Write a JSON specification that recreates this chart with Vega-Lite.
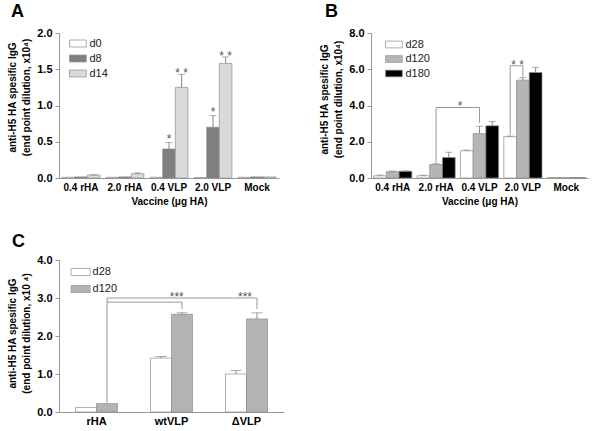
{
  "$schema": "https://vega.github.io/schema/vega-lite/v6.json",
  "padding": {"left": 7, "top": 3, "right": 5, "bottom": 5},
  "background": "white",
  "config": {
    "font": "Liberation Sans",
    "view": {"stroke": null},
    "axis": {"grid": false, "domainColor": "#999", "tickColor": "#999", "labelFont": "Liberation Sans", "labelFontWeight": "bold", "labelFontSize": 10, "labelColor": "#000", "titleFont": "Liberation Sans", "titleFontWeight": "bold", "titleFontSize": 10, "titleColor": "#000", "labelOverlap": false},
    "axisX": {"ticks": false, "labelAngle": 0, "labelPadding": 4, "titlePadding": 4},
    "axisY": {"tickSize": 4, "labelPadding": 3, "titlePadding": 5, "titleLineHeight": 14, "labelFontSize": 11},
    "title": {"font": "Liberation Sans", "fontSize": 18, "fontWeight": "bold", "anchor": "start", "frame": "group", "color": "#000"},
    "legend": {"labelFont": "Liberation Sans", "labelFontSize": 11, "labelColor": "#222", "symbolStrokeColor": "#999", "symbolStrokeWidth": 0.8, "symbolOpacity": 1, "padding": 0, "rowPadding": 2, "labelOffset": 4}
  },
  "resolve": {"scale": {"fill": "independent", "xOffset": "independent", "x": "independent", "y": "independent"}, "legend": {"fill": "independent"}},
  "datasets": {
    "a": [
      {"group": "0.4 rHA", "series": "d0", "value": 0.01},
      {"group": "0.4 rHA", "series": "d8", "value": 0.015},
      {"group": "0.4 rHA", "series": "d14", "value": 0.04, "err": 0.045},
      {"group": "2.0 rHA", "series": "d0", "value": 0.01},
      {"group": "2.0 rHA", "series": "d8", "value": 0.015},
      {"group": "2.0 rHA", "series": "d14", "value": 0.06, "err": 0.07},
      {"group": "0.4 VLP", "series": "d0", "value": 0.01},
      {"group": "0.4 VLP", "series": "d8", "value": 0.40, "err": 0.49},
      {"group": "0.4 VLP", "series": "d14", "value": 1.25, "err": 1.43},
      {"group": "2.0 VLP", "series": "d0", "value": 0.005},
      {"group": "2.0 VLP", "series": "d8", "value": 0.70, "err": 0.86},
      {"group": "2.0 VLP", "series": "d14", "value": 1.58, "err": 1.67},
      {"group": "Mock", "series": "d0", "value": 0.01},
      {"group": "Mock", "series": "d8", "value": 0.015},
      {"group": "Mock", "series": "d14", "value": 0.015}
    ],
    "astars": [
      {"group": "0.4 VLP", "series": "d8", "y": 0.54, "label": "*"},
      {"group": "0.4 VLP", "series": "d14", "y": 1.45, "label": "* *"},
      {"group": "2.0 VLP", "series": "d8", "y": 0.91, "label": "*"},
      {"group": "2.0 VLP", "series": "d14", "y": 1.68, "label": "* *"}
    ],
    "b": [
      {"group": "0.4 rHA", "series": "d28", "value": 0.12, "err": 0.16},
      {"group": "0.4 rHA", "series": "d120", "value": 0.35, "err": 0.38},
      {"group": "0.4 rHA", "series": "d180", "value": 0.37, "err": 0.39},
      {"group": "2.0 rHA", "series": "d28", "value": 0.12, "err": 0.15},
      {"group": "2.0 rHA", "series": "d120", "value": 0.75, "err": 0.78},
      {"group": "2.0 rHA", "series": "d180", "value": 1.13, "err": 1.42},
      {"group": "0.4 VLP", "series": "d28", "value": 1.5, "err": 1.54},
      {"group": "0.4 VLP", "series": "d120", "value": 2.45, "err": 2.85},
      {"group": "0.4 VLP", "series": "d180", "value": 2.88, "err": 3.12},
      {"group": "2.0 VLP", "series": "d28", "value": 2.28, "err": 2.31},
      {"group": "2.0 VLP", "series": "d120", "value": 5.4, "err": 5.55},
      {"group": "2.0 VLP", "series": "d180", "value": 5.82, "err": 6.1},
      {"group": "Mock", "series": "d28", "value": 0.02},
      {"group": "Mock", "series": "d120", "value": 0.02},
      {"group": "Mock", "series": "d180", "value": 0.025}
    ],
    "bbr": [
      {"x": 1.5, "x2": 2.5, "y": 3.89, "y2": 3.89},
      {"x": 1.5, "x2": 1.5, "y": 3.89, "y2": 0.8},
      {"x": 2.5, "x2": 2.5, "y": 3.89, "y2": 3.05},
      {"x": 3.2067, "x2": 3.5, "y": 6.19, "y2": 6.19},
      {"x": 3.2067, "x2": 3.2067, "y": 6.19, "y2": 2.35},
      {"x": 3.5, "x2": 3.5, "y": 6.19, "y2": 5.6}
    ],
    "bstars": [
      {"x": 2.05, "y": 3.95, "label": "*"},
      {"x": 3.38, "y": 6.25, "label": "* *"}
    ],
    "c": [
      {"group": "rHA", "series": "d28", "value": 0.12},
      {"group": "rHA", "series": "d120", "value": 0.22},
      {"group": "wtVLP", "series": "d28", "value": 1.42, "err": 1.46},
      {"group": "wtVLP", "series": "d120", "value": 2.57, "err": 2.61},
      {"group": "ΔVLP", "series": "d28", "value": 1.0, "err": 1.09},
      {"group": "ΔVLP", "series": "d120", "value": 2.45, "err": 2.61}
    ],
    "cbr": [
      {"x": 0.64, "x2": 2.64, "y": 3.0, "y2": 3.0},
      {"x": 0.64, "x2": 1.64, "y": 2.89, "y2": 2.89},
      {"x": 0.64, "x2": 0.64, "y": 3.0, "y2": 0.22},
      {"x": 1.64, "x2": 1.64, "y": 2.89, "y2": 2.71},
      {"x": 2.64, "x2": 2.64, "y": 3.0, "y2": 2.71}
    ],
    "cstars": [
      {"x": 1.57, "y": 3.02, "label": "***"},
      {"x": 2.48, "y": 3.02, "label": "***"}
    ]
  },
  "vconcat": [
    {
      "resolve": {"scale": {"fill": "independent", "xOffset": "independent", "x": "independent", "y": "independent"}, "legend": {"fill": "independent"}},
      "hconcat": [
        {
          "width": 220,
          "height": 145,
          "title": {"text": "A", "dx": -48, "offset": 6},
          "layer": [
            {
              "data": {"name": "a"},
              "mark": {"type": "bar", "stroke": "#8c8c8c", "strokeWidth": 0.7},
              "encoding": {
                "x": {"field": "group", "type": "nominal", "sort": ["0.4 rHA", "2.0 rHA", "0.4 VLP", "2.0 VLP", "Mock"], "scale": {"type": "band", "paddingInner": 0.14, "paddingOuter": 0.07}, "axis": {"title": "Vaccine (μg HA)"}},
                "xOffset": {"field": "series", "type": "nominal", "sort": ["d0", "d8", "d14"], "scale": {"type": "band", "paddingInner": 0, "paddingOuter": 0}},
                "y": {"field": "value", "type": "quantitative", "scale": {"domain": [0, 2], "nice": false}, "axis": {"values": [0, 0.5, 1, 1.5, 2], "format": ".1f", "title": ["anti-H5 HA spesific IgG", "(end point dilution, x10⁴)"], "titleY": 64}},
                "fill": {"field": "series", "type": "nominal", "sort": ["d0", "d8", "d14"], "scale": {"domain": ["d0", "d8", "d14"], "range": ["#ffffff", "#7f7f7f", "#dadada"]}, "legend": {"title": null, "orient": "none", "legendX": 11.4, "legendY": 3, "symbolType": "M-1.2,-0.5H1.2V0.5H-1.2Z", "symbolSize": 196}}
              }
            },
            {
              "data": {"name": "a"},
              "transform": [{"filter": "isValid(datum.err)"}],
              "mark": {"type": "rule", "color": "#888", "strokeWidth": 1},
              "encoding": {
                "x": {"field": "group", "type": "nominal", "sort": ["0.4 rHA", "2.0 rHA", "0.4 VLP", "2.0 VLP", "Mock"], "scale": {"type": "band", "paddingInner": 0.14, "paddingOuter": 0.07}, "axis": {"title": "Vaccine (μg HA)"}},
                "xOffset": {"field": "series", "type": "nominal", "sort": ["d0", "d8", "d14"], "scale": {"type": "band", "paddingInner": 0, "paddingOuter": 0}},
                "y": {"field": "value", "type": "quantitative", "scale": {"domain": [0, 2], "nice": false}, "axis": {"values": [0, 0.5, 1, 1.5, 2], "format": ".1f", "title": ["anti-H5 HA spesific IgG", "(end point dilution, x10⁴)"], "titleY": 64}},
                "y2": {"field": "err"}
              }
            },
            {
              "data": {"name": "a"},
              "transform": [{"filter": "isValid(datum.err)"}],
              "mark": {"type": "tick", "color": "#888", "size": 7, "thickness": 1},
              "encoding": {
                "x": {"field": "group", "type": "nominal", "sort": ["0.4 rHA", "2.0 rHA", "0.4 VLP", "2.0 VLP", "Mock"], "scale": {"type": "band", "paddingInner": 0.14, "paddingOuter": 0.07}, "axis": {"title": "Vaccine (μg HA)"}},
                "xOffset": {"field": "series", "type": "nominal", "sort": ["d0", "d8", "d14"], "scale": {"type": "band", "paddingInner": 0, "paddingOuter": 0}},
                "y": {"field": "err", "type": "quantitative", "scale": {"domain": [0, 2], "nice": false}, "axis": {"values": [0, 0.5, 1, 1.5, 2], "format": ".1f", "title": ["anti-H5 HA spesific IgG", "(end point dilution, x10⁴)"], "titleY": 64}}
              }
            },
            {
              "data": {"name": "astars"},
              "mark": {"type": "text", "color": "#555", "fontSize": 12, "baseline": "middle", "align": "center"},
              "encoding": {
                "x": {"field": "group", "type": "nominal", "sort": ["0.4 rHA", "2.0 rHA", "0.4 VLP", "2.0 VLP", "Mock"], "scale": {"type": "band", "paddingInner": 0.14, "paddingOuter": 0.07}, "axis": {"title": "Vaccine (μg HA)"}},
                "xOffset": {"field": "series", "type": "nominal", "sort": ["d0", "d8", "d14"], "scale": {"type": "band", "paddingInner": 0, "paddingOuter": 0}},
                "y": {"field": "y", "type": "quantitative", "scale": {"domain": [0, 2], "nice": false}, "axis": {"values": [0, 0.5, 1, 1.5, 2], "format": ".1f", "title": ["anti-H5 HA spesific IgG", "(end point dilution, x10⁴)"], "titleY": 64}},
                "text": {"field": "label"}
              }
            }
          ]
        },
        {
          "width": 217,
          "height": 145,
          "title": {"text": "B", "dx": -46, "offset": 6},
          "resolve": {"scale": {"x": "independent"}},
          "layer": [
            {
              "layer": [
                {
                  "data": {"name": "b"},
                  "mark": {"type": "bar", "stroke": "#8c8c8c", "strokeWidth": 0.7},
                  "encoding": {
                    "x": {"field": "group", "type": "nominal", "sort": ["0.4 rHA", "2.0 rHA", "0.4 VLP", "2.0 VLP", "Mock"], "scale": {"type": "band", "paddingInner": 0.12, "paddingOuter": 0.06}, "axis": {"title": "Vaccine (μg HA)"}},
                    "xOffset": {"field": "series", "type": "nominal", "sort": ["d28", "d120", "d180"], "scale": {"type": "band", "paddingInner": 0, "paddingOuter": 0}},
                    "y": {"field": "value", "type": "quantitative", "scale": {"domain": [0, 8], "nice": false}, "axis": {"values": [0, 2, 4, 6, 8], "format": ".1f", "title": ["anti-H5 HA spesific IgG", "(end point dilution, x10⁴)"], "titleY": 66}},
                    "fill": {"field": "series", "type": "nominal", "sort": ["d28", "d120", "d180"], "scale": {"domain": ["d28", "d120", "d180"], "range": ["#ffffff", "#b5b5b5", "#000000"]}, "legend": {"title": null, "orient": "none", "legendX": 15.4, "legendY": 4, "rowPadding": 1.5, "symbolType": "M-1.25,-0.5H1.25V0.5H-1.25Z", "symbolSize": 182}}
                  }
                },
                {
                  "data": {"name": "b"},
                  "transform": [{"filter": "isValid(datum.err)"}],
                  "mark": {"type": "rule", "color": "#888", "strokeWidth": 1},
                  "encoding": {
                    "x": {"field": "group", "type": "nominal", "sort": ["0.4 rHA", "2.0 rHA", "0.4 VLP", "2.0 VLP", "Mock"], "scale": {"type": "band", "paddingInner": 0.12, "paddingOuter": 0.06}, "axis": {"title": "Vaccine (μg HA)"}},
                    "xOffset": {"field": "series", "type": "nominal", "sort": ["d28", "d120", "d180"], "scale": {"type": "band", "paddingInner": 0, "paddingOuter": 0}},
                    "y": {"field": "value", "type": "quantitative", "scale": {"domain": [0, 8], "nice": false}, "axis": {"values": [0, 2, 4, 6, 8], "format": ".1f", "title": ["anti-H5 HA spesific IgG", "(end point dilution, x10⁴)"], "titleY": 66}},
                    "y2": {"field": "err"}
                  }
                },
                {
                  "data": {"name": "b"},
                  "transform": [{"filter": "isValid(datum.err)"}],
                  "mark": {"type": "tick", "color": "#888", "size": 7, "thickness": 1},
                  "encoding": {
                    "x": {"field": "group", "type": "nominal", "sort": ["0.4 rHA", "2.0 rHA", "0.4 VLP", "2.0 VLP", "Mock"], "scale": {"type": "band", "paddingInner": 0.12, "paddingOuter": 0.06}, "axis": {"title": "Vaccine (μg HA)"}},
                    "xOffset": {"field": "series", "type": "nominal", "sort": ["d28", "d120", "d180"], "scale": {"type": "band", "paddingInner": 0, "paddingOuter": 0}},
                    "y": {"field": "err", "type": "quantitative", "scale": {"domain": [0, 8], "nice": false}, "axis": {"values": [0, 2, 4, 6, 8], "format": ".1f", "title": ["anti-H5 HA spesific IgG", "(end point dilution, x10⁴)"], "titleY": 66}}
                  }
                }
              ]
            },
            {
              "layer": [
                {
                  "data": {"name": "bbr"},
                  "mark": {"type": "rule", "color": "#999", "strokeWidth": 1},
                  "encoding": {
                    "x": {"field": "x", "type": "quantitative", "scale": {"domain": [0, 5], "nice": false, "zero": false}, "axis": null},
                    "x2": {"field": "x2"},
                    "y": {"field": "y", "type": "quantitative", "scale": {"domain": [0, 8], "nice": false}, "axis": {"values": [0, 2, 4, 6, 8], "format": ".1f", "title": ["anti-H5 HA spesific IgG", "(end point dilution, x10⁴)"], "titleY": 66}},
                    "y2": {"field": "y2"}
                  }
                },
                {
                  "data": {"name": "bstars"},
                  "mark": {"type": "text", "color": "#555", "fontSize": 12, "baseline": "middle", "align": "center"},
                  "encoding": {
                    "x": {"field": "x", "type": "quantitative", "scale": {"domain": [0, 5], "nice": false, "zero": false}, "axis": null},
                    "y": {"field": "y", "type": "quantitative", "scale": {"domain": [0, 8], "nice": false}, "axis": {"values": [0, 2, 4, 6, 8], "format": ".1f", "title": ["anti-H5 HA spesific IgG", "(end point dilution, x10⁴)"], "titleY": 66}},
                    "text": {"field": "label"}
                  }
                }
              ]
            }
          ]
        }
      ],
      "spacing": 40
    },
    {
      "width": 225,
      "height": 152,
      "title": {"text": "C", "dx": -47, "offset": 3},
      "resolve": {"scale": {"x": "independent"}},
      "layer": [
        {
          "layer": [
            {
              "data": {"name": "c"},
              "mark": {"type": "bar", "stroke": "#8c8c8c", "strokeWidth": 0.7},
              "encoding": {
                "x": {"field": "group", "type": "nominal", "sort": ["rHA", "wtVLP", "ΔVLP"], "scale": {"type": "band", "paddingInner": 0.44, "paddingOuter": 0.22}, "axis": {"title": null, "labelFontSize": 11, "labelPadding": 3}},
                "xOffset": {"field": "series", "type": "nominal", "sort": ["d28", "d120"], "scale": {"type": "band", "paddingInner": 0, "paddingOuter": 0}},
                "y": {"field": "value", "type": "quantitative", "scale": {"domain": [0, 4], "nice": false}, "axis": {"values": [0, 1, 2, 3, 4], "format": ".1f", "title": ["anti-H5 HA spesific IgG", "(end point dilution, x10 ⁴)"], "titleY": 73}},
                "fill": {"field": "series", "type": "nominal", "sort": ["d28", "d120"], "scale": {"domain": ["d28", "d120"], "range": ["#ffffff", "#b3b3b3"]}, "legend": {"title": null, "orient": "none", "legendX": 13.6, "legendY": 4, "rowPadding": 3, "symbolType": "M-1.27,-0.47H1.27V0.47H-1.27Z", "symbolSize": 225}}
              }
            },
            {
              "data": {"name": "c"},
              "transform": [{"filter": "isValid(datum.err)"}],
              "mark": {"type": "rule", "color": "#888", "strokeWidth": 1},
              "encoding": {
                "x": {"field": "group", "type": "nominal", "sort": ["rHA", "wtVLP", "ΔVLP"], "scale": {"type": "band", "paddingInner": 0.44, "paddingOuter": 0.22}, "axis": {"title": null, "labelFontSize": 11, "labelPadding": 3}},
                "xOffset": {"field": "series", "type": "nominal", "sort": ["d28", "d120"], "scale": {"type": "band", "paddingInner": 0, "paddingOuter": 0}},
                "y": {"field": "value", "type": "quantitative", "scale": {"domain": [0, 4], "nice": false}, "axis": {"values": [0, 1, 2, 3, 4], "format": ".1f", "title": ["anti-H5 HA spesific IgG", "(end point dilution, x10 ⁴)"], "titleY": 73}},
                "y2": {"field": "err"}
              }
            },
            {
              "data": {"name": "c"},
              "transform": [{"filter": "isValid(datum.err)"}],
              "mark": {"type": "tick", "color": "#888", "size": 11, "thickness": 1},
              "encoding": {
                "x": {"field": "group", "type": "nominal", "sort": ["rHA", "wtVLP", "ΔVLP"], "scale": {"type": "band", "paddingInner": 0.44, "paddingOuter": 0.22}, "axis": {"title": null, "labelFontSize": 11, "labelPadding": 3}},
                "xOffset": {"field": "series", "type": "nominal", "sort": ["d28", "d120"], "scale": {"type": "band", "paddingInner": 0, "paddingOuter": 0}},
                "y": {"field": "err", "type": "quantitative", "scale": {"domain": [0, 4], "nice": false}, "axis": {"values": [0, 1, 2, 3, 4], "format": ".1f", "title": ["anti-H5 HA spesific IgG", "(end point dilution, x10 ⁴)"], "titleY": 73}}
              }
            }
          ]
        },
        {
          "layer": [
            {
              "data": {"name": "cbr"},
              "mark": {"type": "rule", "color": "#999", "strokeWidth": 1},
              "encoding": {
                "x": {"field": "x", "type": "quantitative", "scale": {"domain": [0, 3], "nice": false, "zero": false}, "axis": null},
                "x2": {"field": "x2"},
                "y": {"field": "y", "type": "quantitative", "scale": {"domain": [0, 4], "nice": false}, "axis": {"values": [0, 1, 2, 3, 4], "format": ".1f", "title": ["anti-H5 HA spesific IgG", "(end point dilution, x10 ⁴)"], "titleY": 73}},
                "y2": {"field": "y2"}
              }
            },
            {
              "data": {"name": "cstars"},
              "mark": {"type": "text", "color": "#555", "fontSize": 12, "baseline": "middle", "align": "center"},
              "encoding": {
                "x": {"field": "x", "type": "quantitative", "scale": {"domain": [0, 3], "nice": false, "zero": false}, "axis": null},
                "y": {"field": "y", "type": "quantitative", "scale": {"domain": [0, 4], "nice": false}, "axis": {"values": [0, 1, 2, 3, 4], "format": ".1f", "title": ["anti-H5 HA spesific IgG", "(end point dilution, x10 ⁴)"], "titleY": 73}},
                "text": {"field": "label"}
              }
            }
          ]
        }
      ]
    }
  ],
  "spacing": 27
}
